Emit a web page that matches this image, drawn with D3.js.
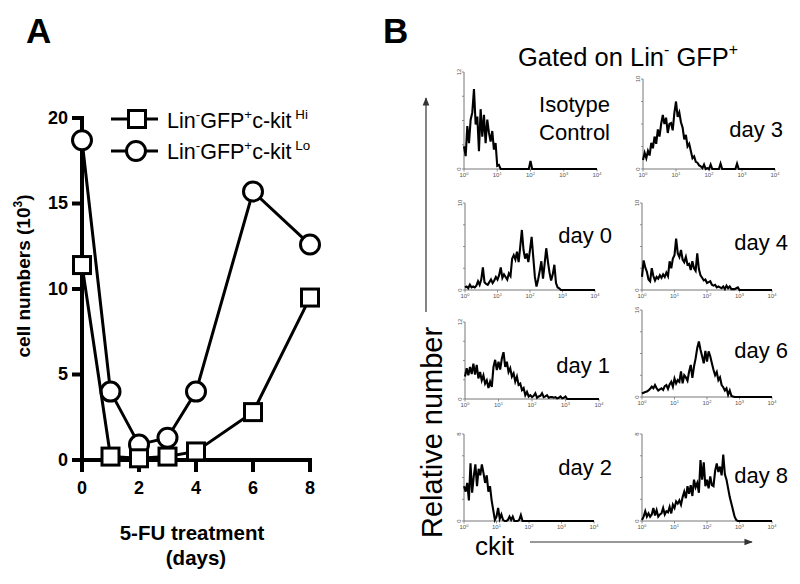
<!DOCTYPE html>
<html><head><meta charset="utf-8">
<script src="https://cdn.jsdelivr.net/npm/d3@7"></script>
<style>body{margin:0;background:#fff} svg{display:block}</style>
</head><body><svg id="c" width="800" height="584"></svg>
<script>
// ---------- Panel A data ----------
const days = [0, 1, 2, 3, 4, 6, 8];
const kitHi = [11.4, 0.2, 0.1, 0.2, 0.5, 2.8, 9.5];
const kitLo = [18.7, 4.0, 0.9, 1.3, 4.0, 15.7, 12.6];
const xTicksA = [0, 2, 4, 6, 8];
const yTicksA = [0, 5, 10, 15, 20];
const legendSuffix = ["Hi", "Lo"];

// ---------- Panel B data (counts per 1/20-decade channel from 10^0) ----------
const histLabels = [["Isotype", "Control"], ["day 3"], ["day 0"], ["day 4"], ["day 1"], ["day 6"], ["day 2"], ["day 8"]];
const histMax = [12, 10, 10, 10, 12, 16, 8, 8];
const decades = [0, 1, 2, 3, 4];
const isotype = [2.8,1.6,5.3,3.2,6.1,7.0,9.9,5.5,6.5,2.2,7.4,4.0,6.7,3.2,6.1,4.5,3.4,4.7,2.4,3.2,0.4,0.5,0,0,0,0,0,0,0,0,0,0,0,0,0,0,0,0,0,0,1.0,0];
const day3 = [1.0,1.8,1.2,2.0,1.5,2.9,2.3,3.6,2.8,4.4,3.6,5.0,6.0,5.0,5.7,4.0,5.0,5.1,4.3,6.2,7.5,5.8,6.3,5.2,4.6,3.3,3.8,2.5,2.8,2.0,1.2,1.4,0.8,0.7,0.4,0.3,0.1,0.5,0,0.1,0,0.5,0,0,0,0,0,0.6,0,0,0,0,0,0,0,0,0,0.6,0];
const day0 = [0.3,0.4,0.2,0.6,0.3,0.4,0.3,0.5,1.0,0.6,1.2,2.6,0.9,0.7,0.6,0.9,1.2,0.8,1.1,1.5,1.2,1.7,2.6,1.4,1.8,1.5,1.2,1.9,1.6,3.6,4.0,3.5,4.4,3.2,5.0,6.9,4.6,3.6,4.2,3.2,4.6,6.1,3.8,1.5,0.4,1.2,2.2,3.3,1.3,3.0,4.8,3.3,2.0,1.1,1.8,2.9,0.8,0.3,0.2,0];
const day4 = [1.5,3.4,2.6,2.1,1.2,1.0,2.5,1.6,1.1,1.5,1.3,1.7,1.4,1.8,1.5,2.0,1.6,3.3,2.5,3.6,4.0,5.9,4.2,3.8,4.6,3.5,3.2,3.8,2.9,3.0,2.3,3.3,2.5,2.2,4.2,2.4,1.7,1.4,1.1,1.2,0.8,0.9,1.0,0.6,0.5,0.6,0.3,0.4,0.3,0.2,0.4,0.1,0.5,0.2,0.4,0.1,0.1,0.1,0.2,0.3,0];
const day1 = [3.5,4.8,3.7,5.0,3.9,5.5,3.8,5.3,3.2,4.2,2.9,3.7,2.4,2.9,1.7,2.7,1.9,5.0,6.1,4.5,5.8,4.6,6.3,7.3,5.0,5.8,4.2,4.8,3.5,4.0,2.7,3.5,2.2,2.4,1.4,1.7,0.6,1.1,0.4,0.6,0.3,0.5,0.9,0.2,0.4,0.5,0.9,0.3,0.4,0.6,0.2,0.3,0.3,0.2,0.3,0.1,0.2,0.4,0.1,0.2,0.4,0];
const day6 = [0.6,0.8,0.9,1.0,1.2,1.5,1.9,1.6,2.2,1.6,1.2,1.4,1.6,1.3,2.0,2.2,1.5,2.3,2.8,1.9,3.4,2.5,3.1,2.8,4.7,2.5,4.0,3.6,3.0,4.7,5.9,3.5,5.6,7.1,9.0,10.2,8.7,7.5,6.2,8.5,6.5,8.4,7.5,6.2,5.0,4.0,4.6,3.1,3.6,2.2,1.8,1.2,1.6,0.4,1.2,0.2,0.1,0];
const day2 = [3.2,2.7,3.5,1.9,5.3,2.6,4.1,5.2,3.2,4.8,4.2,5.2,4.4,3.5,4.2,2.7,3.2,1.9,1.0,0.1,0.4,1.2,0.2,0.6,0.1,0,0,0.1,0.4,0.1,0.4,0,0,0,0.1,0.55,0];
const day8 = [0.1,0.4,0.9,0.4,0.7,0.4,0.6,1.2,0.5,1.0,0.4,0.6,0.7,1.2,0.6,0.9,0.8,1.3,0.7,1.5,1.2,1.8,1.6,1.9,1.5,2.2,2.7,2.1,3.2,2.5,3.3,2.3,3.8,3.1,3.5,2.6,5.6,3.8,5.4,3.2,3.8,3.0,4.1,3.3,3.2,4.6,5.3,4.5,5.0,4.2,6.1,4.3,3.8,3.0,2.2,1.6,1.0,0.4,0.1,0];
const histData = [isotype, day3, day0, day4, day1, day6, day2, day8];

// ---------- drawing ----------
const FONT = "'Liberation Sans', Arial, Helvetica, sans-serif";
const svg = d3.select("#c").style("font-family", FONT);
svg.append("rect").attr("width", 800).attr("height", 584).attr("fill", "#fff");

function rich(g, x, y, parts, fs, attrs) {
  const t = g.append("text").attr("x", x).attr("y", y).attr("font-size", fs);
  Object.entries(attrs || {}).forEach(([k, v]) => t.attr(k, v));
  let up = false;
  parts.forEach(p => {
    const ts = t.append("tspan").text(p.t);
    if (p.s) { ts.attr("font-size", fs * 0.62); if (!up) ts.attr("dy", -fs * 0.42); up = true; }
    else { if (up) ts.attr("dy", fs * 0.42); up = false; }
  });
  return t;
}

// Panel labels
svg.append("text").attr("x", 26).attr("y", 43).attr("font-size", 35).attr("font-weight", "bold").text("A");
svg.append("text").attr("x", 383).attr("y", 43).attr("font-size", 35).attr("font-weight", "bold").text("B");

// ---------- Panel A ----------
const gA = svg.append("g");
const xA = d3.scaleLinear().domain([0, 8]).range([82, 310]);
const yA = d3.scaleLinear().domain([0, 20]).range([460, 118]);

const yAx = gA.append("g").attr("transform", "translate(82,0)")
  .call(d3.axisLeft(yA).tickValues(yTicksA).tickSize(10).tickSizeOuter(0).tickPadding(4).offset(0));
const xAx = gA.append("g").attr("transform", "translate(0,460)")
  .call(d3.axisBottom(xA).tickValues(xTicksA).tickSize(12).tickSizeOuter(0).tickPadding(9).offset(0));
[yAx, xAx].forEach(a => {
  a.select(".domain").attr("stroke", "#000").attr("stroke-width", 4).attr("stroke-linecap", "square");
  a.selectAll(".tick line").attr("stroke", "#000").attr("stroke-width", 4);
  a.selectAll(".tick text").attr("font-size", 18).attr("font-weight", "bold").attr("fill", "#000").attr("font-family", FONT);
});

// axis titles
const yt = gA.append("text").attr("transform", "translate(30,276) rotate(-90)")
  .attr("text-anchor", "middle").attr("font-weight", "bold").attr("font-size", 19);
yt.append("tspan").text("cell numbers (10");
yt.append("tspan").text("3").attr("font-size", 12).attr("dy", -8);
yt.append("tspan").text(")").attr("dy", 8);
gA.append("text").attr("x", 192).attr("y", 540).attr("text-anchor", "middle").attr("font-weight", "bold").attr("font-size", 20.5).text("5-FU treatment");
gA.append("text").attr("x", 196).attr("y", 565).attr("text-anchor", "middle").attr("font-weight", "bold").attr("font-size", 20.5).text("(days)");

const lineA = d3.line().x((d, i) => xA(days[i])).y(d => yA(d));
function drawSeries(vals, shape) {
  gA.append("path").attr("d", lineA(vals)).attr("fill", "none").attr("stroke", "#000").attr("stroke-width", 3);
  vals.forEach((v, i) => {
    const cx = xA(days[i]), cy = yA(v);
    if (shape === "c") gA.append("circle").attr("cx", cx).attr("cy", cy).attr("r", 9.5)
      .attr("fill", "#fff").attr("stroke", "#000").attr("stroke-width", 3);
    else gA.append("rect").attr("x", cx - 8.5).attr("y", cy - 8.5).attr("width", 17).attr("height", 17)
      .attr("fill", "#fff").attr("stroke", "#000").attr("stroke-width", 3);
  });
}
drawSeries(kitLo, "c");
drawSeries(kitHi, "s");

// legend
[["s", 119, 128], ["c", 151, 159]].forEach(([shape, ly, ty], k) => {
  gA.append("line").attr("x1", 111).attr("x2", 158).attr("y1", ly).attr("y2", ly).attr("stroke", "#000").attr("stroke-width", 3);
  if (shape === "s") gA.append("rect").attr("x", 137 - 8.5).attr("y", ly - 8.5).attr("width", 17).attr("height", 17)
    .attr("fill", "#fff").attr("stroke", "#000").attr("stroke-width", 3);
  else gA.append("circle").attr("cx", 136).attr("cy", ly).attr("r", 9.5).attr("fill", "#fff").attr("stroke", "#000").attr("stroke-width", 3);
  rich(gA, 167, ty, [{t: "Lin"}, {t: "-", s: 1}, {t: "GFP"}, {t: "+", s: 1}, {t: "c-kit"}, {t: "\u00a0" + legendSuffix[k], s: 1}], 21.5);
});

// ---------- Panel B ----------
const gB = svg.append("g");
rich(gB, 518, 66, [{t: "Gated on Lin"}, {t: "-", s: 1}, {t: " GFP"}, {t: "+", s: 1}], 25.5);

// Relative number axis
const defs = svg.append("defs");
defs.append("marker").attr("id", "ah").attr("viewBox", "0 0 10 10").attr("refX", 9).attr("refY", 5)
  .attr("markerWidth", 7).attr("markerHeight", 7).attr("orient", "auto-start-reverse")
  .append("path").attr("d", "M0,1 L10,5 L0,9 z").attr("fill", "#333");
gB.append("line").attr("x1", 426).attr("x2", 426).attr("y1", 312).attr("y2", 98)
  .attr("stroke", "#333").attr("stroke-width", 1.2).attr("marker-end", "url(#ah)");
gB.append("text").attr("transform", "translate(442,538) rotate(-90)").attr("font-size", 29).text("Relative number");
gB.append("text").attr("x", 475).attr("y", 555).attr("font-size", 26).text("ckit");
gB.append("line").attr("x1", 530).attr("x2", 752).attr("y1", 542).attr("y2", 542)
  .attr("stroke", "#333").attr("stroke-width", 1.2).attr("marker-end", "url(#ah)");

const layout = [
  {x0: 464, x1: 597, top: 72, base: 169, lx: 610, ly: [112, 140]},
  {x0: 643, x1: 775, top: 79, base: 169, lx: 783, ly: [137]},
  {x0: 465, x1: 595, top: 203, base: 290, lx: 612, ly: [243]},
  {x0: 642, x1: 772, top: 203, base: 290, lx: 788, ly: [250]},
  {x0: 465, x1: 599, top: 322, base: 399, lx: 610, ly: [373]},
  {x0: 642, x1: 772, top: 310, base: 397, lx: 788, ly: [358]},
  {x0: 464, x1: 594, top: 434, base: 521, lx: 612, ly: [475]},
  {x0: 642, x1: 772, top: 434, base: 521, lx: 788, ly: [483]}
];

histData.forEach((data, k) => {
  const L = layout[k];
  const g = gB.append("g");
  const x = d3.scaleLog().domain([1, 1e4]).range([L.x0, L.x1]);
  const y = d3.scaleLinear().domain([0, histMax[k]]).range([L.base, L.top]);
  const axc = "#777";
  // y axis
  g.append("line").attr("x1", L.x0).attr("x2", L.x0).attr("y1", L.top).attr("y2", L.base).attr("stroke", axc).attr("stroke-width", 1);
  d3.range(0, 5).forEach(j => {
    const yy = y(histMax[k] * j / 4);
    g.append("line").attr("x1", L.x0 - 2).attr("x2", L.x0).attr("y1", yy).attr("y2", yy).attr("stroke", axc).attr("stroke-width", 0.8);
  });
  [0, histMax[k]].forEach(v => {
    g.append("text").attr("transform", `translate(${L.x0 - 3},${y(v)}) rotate(-90)`).attr("text-anchor", "middle")
      .attr("font-size", 6).attr("fill", "#555").text(v);
  });
  // x axis
  g.append("line").attr("x1", L.x0).attr("x2", L.x1).attr("y1", L.base).attr("y2", L.base).attr("stroke", axc).attr("stroke-width", 1);
  decades.forEach(dd => {
    const xx = x(Math.pow(10, dd));
    g.append("line").attr("x1", xx).attr("x2", xx).attr("y1", L.base).attr("y2", L.base + 2.5).attr("stroke", axc).attr("stroke-width", 0.8);
    const t = g.append("text").attr("x", xx).attr("y", L.base + 8).attr("text-anchor", "middle").attr("font-size", 6).attr("fill", "#555");
    t.append("tspan").text("10");
    t.append("tspan").text(dd).attr("font-size", 4).attr("dy", -2.5);
  });
  // histogram trace
  const pts = data.map((v, i) => [Math.pow(10, i / 20), v]);
  pts.push([1e4, 0]);
  g.append("path").attr("d", d3.line().x(d => x(d[0])).y(d => y(d[1]))(pts))
    .attr("fill", "none").attr("stroke", "#000").attr("stroke-width", 2.1).attr("stroke-linejoin", "miter");
  // label
  histLabels[k].forEach((s, j) => {
    g.append("text").attr("x", L.lx).attr("y", L.ly[j]).attr("text-anchor", "end").attr("font-size", 22).text(s);
  });
});
</script></body></html>
